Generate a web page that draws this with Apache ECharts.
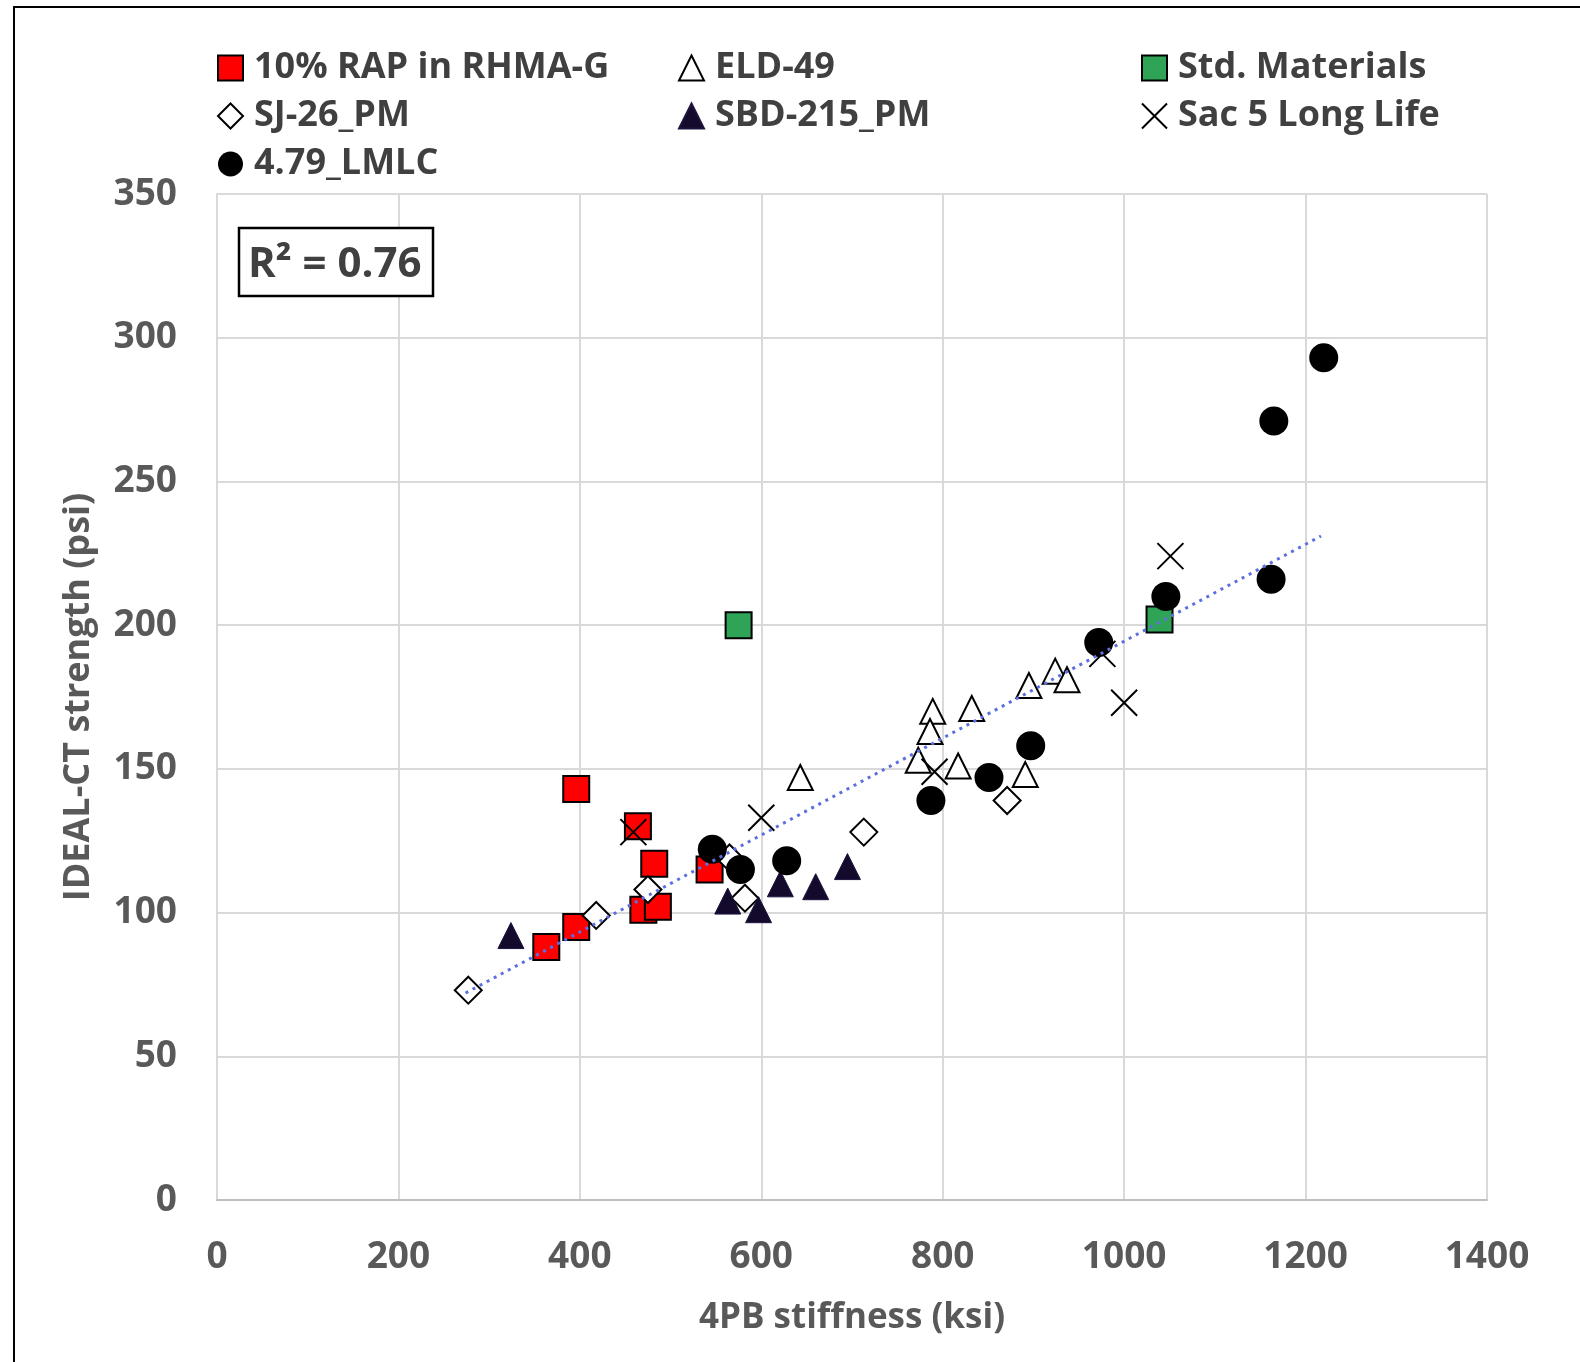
<!DOCTYPE html>
<html>
<head>
<meta charset="utf-8">
<script src="https://cdn.jsdelivr.net/npm/echarts@6/dist/echarts.min.js"></script>
<style>
   html, body { margin: 0; padding: 0; background: #fff; }
   #chartWrapper { width: 1580px; height: 1362px; }
</style>
</head>
<body>
<div id="chartWrapper"></div>
<script>
// values: [stiffness (ksi), strength (psi)]
var rapRhma = [[363, 88], [396, 95], [396, 143], [464, 130], [482, 117], [470, 101], [486, 102], [543, 115]];
var eld49 = [[643, 147], [789, 170], [786, 163], [773, 153], [817, 151], [832, 171], [891, 148], [895, 179], [924, 184], [937, 181]];
var stdMaterials = [[575, 200], [1039, 202]];
var sj26 = [[277, 73], [418, 99], [475, 108], [565, 119], [582, 105], [713, 128], [871, 139]];
var sbd215 = [[324, 92], [563, 104], [597, 101], [621, 110], [660, 109], [695, 116]];
var sac5 = [[459, 128], [600, 133], [791, 149], [976, 190], [1000, 173], [1051, 224]];
var lmlc = [[546, 122], [577, 115], [628, 118], [787, 139], [851, 147], [897, 158], [972, 194], [1046, 210], [1162, 216], [1165, 271], [1220, 293]];

// trend line ends, as drawn
var trendX = [274, 1217];
var trendY = [72, 231];

var xTicks = [0, 1400, 200];
var yTicks = [0, 350, 50];
var rSquared = 'R² = 0.76';

var legendCols = [
   ['10% RAP in RHMA-G', 'SJ-26_PM', '4.79_LMLC'],
   ['ELD-49', 'SBD-215_PM'],
   ['Std. Materials', 'Sac 5 Long Life']
];

var FONT = '"Open Sans", "Liberation Sans", sans-serif';
var crossPath = 'path://M0,0L20,20M20,0L0,20';

var makeLegend = function(names, left) {
   return {
      data: names,
      orient: 'vertical',
      left: left,
      top: 50,
      padding: 0,
      itemWidth: 25,
      itemHeight: 25,
      itemGap: 12,
      selectedMode: false,
      formatter: function(name) {
         return '{t|' + name + '}';
      },
      textStyle: {
         rich: {
            t: {
               fontFamily: FONT,
               fontWeight: 'bold',
               fontSize: 36,
               lineHeight: 36,
               color: '#404040',
               padding: [0, 0, 0, 6]
            }
         }
      }
   };
};

var scatter = function(name, data, symbol, size, style) {
   style.opacity = 1;
   return {
      name: name,
      type: 'scatter',
      data: data,
      symbol: symbol,
      symbolSize: size,
      itemStyle: style,
      emphasis: { disabled: true }
   };
};

var renderChart = function() {
   var iChart = echarts.init(document.getElementById('chartWrapper'));
   var trend = [];

   for(var i = 0; i < trendX.length; i++) {
      trend.push([trendX[i], trendY[i]]);
   }

   var option = {
      animation: false,
      backgroundColor: '#fff',
      legend: [
         makeLegend(legendCols[0], 217),
         makeLegend(legendCols[1], 678),
         makeLegend(legendCols[2], 1141)
      ],
      grid: {
         left: 217,
         right: 93,
         top: 194,
         bottom: 162
      },
      xAxis: {
         type: 'value',
         min: xTicks[0],
         max: xTicks[1],
         interval: xTicks[2],
         name: '4PB stiffness (ksi)',
         nameLocation: 'middle',
         nameGap: 101,
         nameTextStyle: { fontFamily: FONT, fontWeight: 'bold', fontSize: 35, color: '#595959' },
         axisLine: { show: true, lineStyle: { color: '#bfbfbf', width: 2 } },
         axisTick: { show: false },
         axisLabel: {
            margin: 39,
            fontFamily: FONT,
            fontWeight: 'bold',
            fontSize: 37,
            color: '#595959',
            formatter: function(v) { return String(v); }
         },
         splitLine: { show: true, lineStyle: { color: '#d9d9d9', width: 2 } }
      },
      yAxis: {
         type: 'value',
         min: yTicks[0],
         max: yTicks[1],
         interval: yTicks[2],
         name: 'IDEAL-CT strength (psi)',
         nameLocation: 'middle',
         nameGap: 120,
         nameTextStyle: { fontFamily: FONT, fontWeight: 'bold', fontSize: 36, color: '#595959' },
         axisLine: { show: true, lineStyle: { color: '#d9d9d9', width: 2 } },
         axisTick: { show: false },
         axisLabel: {
            margin: 40,
            fontFamily: FONT,
            fontWeight: 'bold',
            fontSize: 37,
            color: '#595959',
            formatter: function(v) { return String(v); }
         },
         splitLine: { show: true, lineStyle: { color: '#d9d9d9', width: 2 } }
      },
      graphic: [
         {
            type: 'rect',
            shape: { x: 14, y: 7, width: 1600, height: 1400 },
            style: { fill: 'none', stroke: '#000', lineWidth: 2 },
            silent: true
         },
         {
            type: 'rect',
            shape: { x: 239, y: 228, width: 194, height: 68 },
            style: { fill: '#fff', stroke: '#000', lineWidth: 2.5 },
            z: 10
         },
         {
            type: 'text',
            left: 248,
            top: 244,
            z: 11,
            style: {
               text: rSquared,
               fontFamily: FONT,
               fontWeight: 'bold',
               fontSize: 42,
               fill: '#404040'
            }
         }
      ],
      series: [
         scatter('10% RAP in RHMA-G', rapRhma, 'rect', 26, { color: '#ff0000', borderColor: '#000', borderWidth: 2 }),
         scatter('SJ-26_PM', sj26, 'diamond', 27, { color: '#fff', borderColor: '#000', borderWidth: 2 }),
         scatter('ELD-49', eld49, 'triangle', 25, { color: '#fff', borderColor: '#000', borderWidth: 2 }),
         scatter('SBD-215_PM', sbd215, 'triangle', 26, { color: '#140a2c', borderColor: '#1e1440', borderWidth: 1 }),
         scatter('Std. Materials', stdMaterials, 'rect', 26, { color: '#2fa457', borderColor: '#000', borderWidth: 2 }),
         scatter('Sac 5 Long Life', sac5, crossPath, 26, { color: 'rgba(0,0,0,0)', borderColor: '#000', borderWidth: 2 }),
         scatter('4.79_LMLC', lmlc, 'circle', 29, { color: '#000' }),
         {
            name: 'trend',
            type: 'line',
            data: trend,
            symbol: 'none',
            z: 5,
            lineStyle: { color: '#5b6fe0', width: 3, type: [3, 5] },
            emphasis: { disabled: true }
         }
      ]
   };

   iChart.setOption(option);
};

renderChart();
</script>
</body>
</html>
